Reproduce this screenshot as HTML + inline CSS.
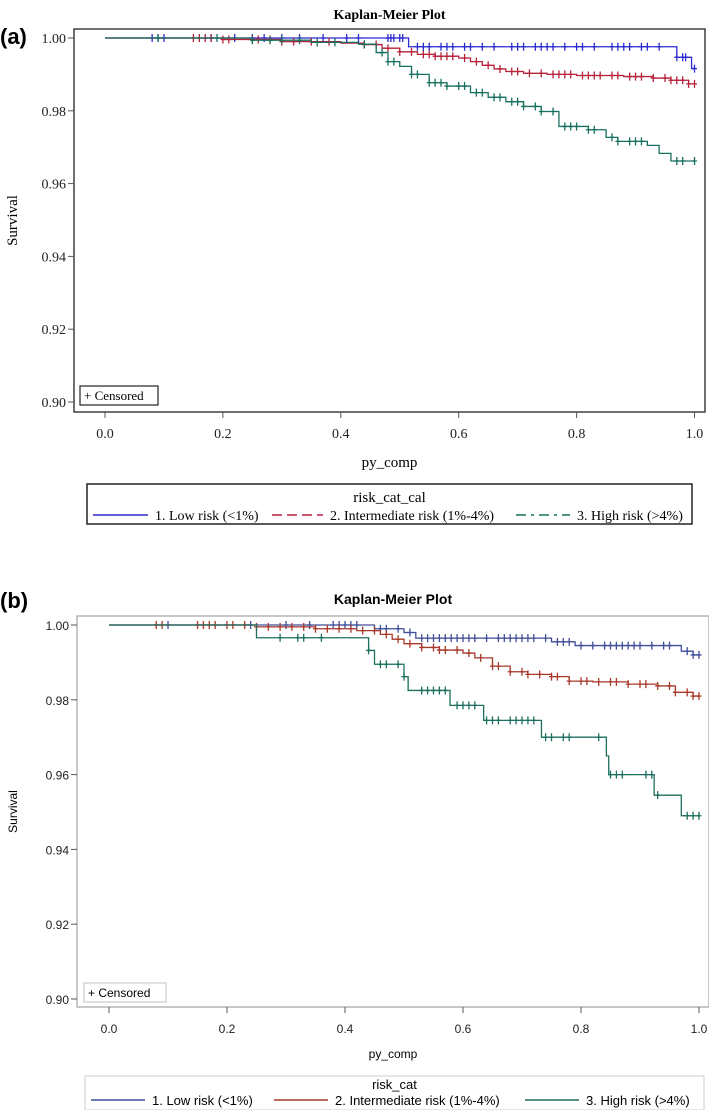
<!DOCTYPE html>
<html><head><meta charset="utf-8"><style>
html,body{margin:0;padding:0;background:#fff;overflow:hidden;}
svg{display:block;}
</style></head><body>
<svg id="fig" width="709" height="1110" viewBox="0 0 709 1110" xmlns="http://www.w3.org/2000/svg">
<g id="pa"></g>
<g id="pb"></g>
</svg>
<script>
// ---------- Panel (a) data: step points [time, survival] ----------
const aLowT = [0, 0.515, 0.970, 0.995];
const aLowS = [1.0, 0.9976, 0.9947, 0.9916];
const aMidT = [0, 0.20, 0.30, 0.40, 0.44, 0.47, 0.50, 0.53, 0.56, 0.60, 0.62, 0.64, 0.66, 0.68, 0.71, 0.75, 0.80, 0.88, 0.93, 0.96, 0.99];
const aMidS = [1.0, 0.9996, 0.9990, 0.9986, 0.9982, 0.9972, 0.9962, 0.9955, 0.9950, 0.9945, 0.9935, 0.9925, 0.9915, 0.9908, 0.9903, 0.9900, 0.9897, 0.9894, 0.9890, 0.9884, 0.9874];
const aHighT = [0, 0.25, 0.35, 0.43, 0.46, 0.48, 0.50, 0.52, 0.55, 0.58, 0.62, 0.65, 0.68, 0.71, 0.74, 0.77, 0.82, 0.85, 0.87, 0.92, 0.94, 0.96];
const aHighS = [1.0, 0.9994, 0.9988, 0.9983, 0.9960, 0.9935, 0.9922, 0.9900, 0.9877, 0.9868, 0.9850, 0.9837, 0.9825, 0.9812, 0.9798, 0.9757, 0.9748, 0.9727, 0.9716, 0.9705, 0.9683, 0.9662];
const aLowC = [0.08,0.09,0.10,0.18,0.22,0.25,0.27,0.30,0.33,0.37,0.41,0.43,0.48,0.485,0.49,0.50,0.505,0.53,0.54,0.55,0.57,0.58,0.59,0.61,0.62,0.64,0.66,0.69,0.70,0.71,0.73,0.74,0.75,0.76,0.78,0.80,0.81,0.83,0.86,0.87,0.88,0.89,0.91,0.92,0.94,0.97,0.98,0.985,1.0];
const aMidC = [0.15,0.16,0.17,0.18,0.20,0.21,0.25,0.26,0.28,0.30,0.32,0.35,0.38,0.44,0.46,0.48,0.50,0.52,0.54,0.55,0.56,0.57,0.58,0.59,0.61,0.63,0.65,0.67,0.69,0.70,0.72,0.74,0.76,0.77,0.78,0.79,0.81,0.82,0.83,0.84,0.86,0.87,0.89,0.90,0.91,0.93,0.95,0.96,0.97,0.98,0.99,1.0];
const aHighC = [0.09,0.19,0.25,0.28,0.30,0.33,0.36,0.39,0.44,0.47,0.48,0.49,0.52,0.53,0.55,0.56,0.57,0.58,0.60,0.61,0.63,0.64,0.66,0.67,0.69,0.70,0.71,0.73,0.74,0.76,0.78,0.79,0.80,0.82,0.83,0.86,0.87,0.89,0.90,0.91,0.97,0.98,1.0];
// ---------- Panel (b) data ----------
const bLowT = [0, 0.45, 0.50, 0.52, 0.75, 0.79, 0.97, 0.99];
const bLowS = [1.0, 0.9990, 0.9980, 0.9965, 0.9955, 0.9945, 0.9930, 0.9920];
const bMidT = [0, 0.25, 0.35, 0.42, 0.46, 0.48, 0.50, 0.53, 0.56, 0.60, 0.62, 0.65, 0.68, 0.71, 0.75, 0.78, 0.82, 0.88, 0.93, 0.96, 0.99];
const bMidS = [1.0, 0.9995, 0.9990, 0.9985, 0.9975, 0.9962, 0.9950, 0.9940, 0.9933, 0.9925, 0.9912, 0.9890, 0.9875, 0.9868, 0.9862, 0.9850, 0.9848, 0.9842, 0.9837, 0.9820, 0.9810];
const bHighT = [0, 0.25, 0.44, 0.45, 0.50, 0.507, 0.578, 0.635, 0.733, 0.843, 0.847, 0.924, 0.97];
const bHighS = [1.0, 0.9966, 0.9932, 0.9895, 0.9862, 0.9825, 0.9785, 0.9745, 0.9700, 0.9650, 0.9600, 0.9545, 0.9490];
const bLowC = [0.10,0.24,0.30,0.34,0.38,0.39,0.40,0.41,0.42,0.46,0.47,0.49,0.51,0.53,0.54,0.55,0.56,0.57,0.58,0.59,0.60,0.61,0.62,0.64,0.66,0.67,0.68,0.69,0.70,0.71,0.72,0.74,0.76,0.77,0.78,0.80,0.82,0.84,0.85,0.86,0.87,0.88,0.89,0.90,0.92,0.94,0.95,0.98,0.99,1.0];
const bMidC = [0.08,0.09,0.15,0.16,0.17,0.18,0.20,0.21,0.23,0.25,0.27,0.29,0.31,0.33,0.35,0.37,0.39,0.41,0.43,0.45,0.47,0.49,0.51,0.53,0.55,0.56,0.57,0.59,0.61,0.63,0.65,0.66,0.68,0.70,0.71,0.73,0.75,0.76,0.78,0.80,0.81,0.83,0.85,0.86,0.88,0.90,0.91,0.93,0.95,0.96,0.98,0.99,1.0];
const bHighC = [0.29,0.32,0.33,0.36,0.44,0.46,0.47,0.49,0.50,0.53,0.54,0.55,0.56,0.57,0.59,0.60,0.61,0.62,0.64,0.65,0.66,0.68,0.69,0.70,0.71,0.72,0.74,0.75,0.77,0.78,0.83,0.85,0.86,0.87,0.91,0.92,0.93,0.98,0.99,1.0];
const xTicks = ["0.0","0.2","0.4","0.6","0.8","1.0"];
const yTicks = ["0.90","0.92","0.94","0.96","0.98","1.00"];
const legendA = ["1. Low risk (<1%)","2. Intermediate risk (1%-4%)","3. High risk (>4%)"];

const NS = "http://www.w3.org/2000/svg";
function mk(parent, tag, attrs, text){
  const e = document.createElementNS(NS, tag);
  for (const k in attrs) e.setAttribute(k, attrs[k]);
  if (text !== undefined) e.textContent = text;
  parent.appendChild(e); return e;
}
function stepAt(T,S,t){ let s=S[0]; for(let i=0;i<T.length;i++){ if(T[i]<=t) s=S[i]; } return s; }

function panel(g, cfg){
  const sx = v => cfg.x0 + (cfg.x1-cfg.x0)*v;
  const sy = v => cfg.y0 + (cfg.y1-cfg.y0)*(v-0.90)/0.10;
  const F = cfg.font;
  const lbl = mk(g,'text',{x:0,y:cfg.labY,'font-family':'"Liberation Sans",sans-serif','font-weight':'bold','font-size':22});
  lbl.textContent = cfg.label;
  
  
  const ti = mk(g,'text',{x:(cfg.fx0+cfg.fx1)/2,y:cfg.titleY,'text-anchor':'middle','font-family':F,'font-weight':'bold','font-size':cfg.titleSize});
  ti.textContent = 'Kaplan-Meier Plot';
  
  
  const fr = mk(g,'rect',{x:cfg.fx0,y:cfg.fy0,width:cfg.fx1-cfg.fx0,height:cfg.fy1-cfg.fy0,fill:'none',stroke:cfg.frameColor,'stroke-width':cfg.frameW});
  
  
  xTicks.forEach((t,i)=>{
    const v=i*0.2, x=sx(v);
    mk(g,'line',{x1:x,x2:x,y1:cfg.fy1,y2:cfg.fy1+6,stroke:'#555'});
    const tx = mk(g,'text',{x:x,y:cfg.xLabY,'text-anchor':'middle','font-family':F,'font-size':cfg.tickSize,fill:'#222'});
    tx.textContent = t;
    
    
  });
  yTicks.forEach((t,i)=>{
    const v=0.90+i*0.02, y=sy(v);
    mk(g,'line',{x1:cfg.fx0-6,x2:cfg.fx0,y1:y,y2:y,stroke:'#555'});
    const ty = mk(g,'text',{x:cfg.fx0-8,y:y+5,'text-anchor':'end','font-family':F,'font-size':cfg.tickSize,fill:'#222'});
    ty.textContent = t;
    
    
  });
  const xt = mk(g,'text',{x:(cfg.fx0+cfg.fx1)/2,y:cfg.xTitleY,'text-anchor':'middle','font-family':F,'font-size':cfg.axTitleSize});
  xt.textContent='py_comp';
  
  
  const ymid=(cfg.fy0+cfg.fy1)/2;
  const yt = mk(g,'text',{x:cfg.yTitleX,y:ymid,'text-anchor':'middle','font-family':F,'font-size':cfg.axTitleSize,transform:`rotate(-90 ${cfg.yTitleX} ${ymid})`});
  yt.textContent='Survival';
  
  
  const cb = mk(g,'rect',{x:cfg.cbX,y:cfg.cbY,width:cfg.cbW,height:cfg.cbH,fill:'#fff',stroke:cfg.cbStroke,'stroke-width':1.2});
  
  
  const ct = mk(g,'text',{x:cfg.cbX+4,y:cfg.cbY+cfg.cbH-5,'font-family':F,'font-size':cfg.cbSize});
  ct.textContent='+ Censored';
  
  
  cfg.series.forEach((se,k)=>{
    let d=`M${sx(0)},${sy(se.S[0])}`;
    for(let i=1;i<se.T.length;i++){ d+=` H${sx(se.T[i])} V${sy(se.S[i])}`; }
    d+=` H${sx(1.0)}`;
    const p = mk(g,'path',{d:d,fill:'none',stroke:se.color,'stroke-width':1.3});
    
    
    se.C.forEach(t=>{
      const x=sx(t), y=sy(stepAt(se.T,se.S,t));
      const c = mk(g,'path',{d:`M${x},${y-4} V${y+4} M${x-2.5},${y} H${x+2.5}`,stroke:se.color,'stroke-width':1.3,fill:'none'});
      
      
    });
  });
  const lb = mk(g,'rect',{x:cfg.lx0,y:cfg.ly0,width:cfg.lx1-cfg.lx0,height:cfg.ly1-cfg.ly0,fill:'none',stroke:cfg.legStroke,'stroke-width':cfg.legW});
  
  
  const lt = mk(g,'text',{x:(cfg.lx0+cfg.lx1)/2,y:cfg.legTitleY,'text-anchor':'middle','font-family':F,'font-size':cfg.legTitleSize});
  lt.textContent=cfg.legTitle;
  
  
  cfg.series.forEach((se,k)=>{
    const e = cfg.legX[k];
    const ln = mk(g,'line',{x1:e[0],x2:e[1],y1:cfg.legEntryY-5,y2:cfg.legEntryY-5,stroke:se.color,'stroke-width':1.5,'stroke-dasharray':cfg.dash[k]});
    
    
    const tx = mk(g,'text',{x:e[1]+7,y:cfg.legEntryY,'font-family':F,'font-size':cfg.legSize});
    tx.textContent=legendA[k];
    
    
  });
}

panel(document.getElementById('pa'),{
  label:'(a)',labY:44,font:'"Liberation Serif",serif',titleY:19,titleSize:14,
  fx0:74,fx1:705,fy0:29,fy1:412,frameColor:'#222',frameW:1.3,
  x0:105,x1:694.5,y0:402,y1:38,
  xLabY:438,tickSize:14,xTitleY:467,axTitleSize:15,yTitleX:17,
  cbX:80,cbY:386,cbW:78,cbH:19,cbSize:13,cbStroke:'#222',
  lx0:87,lx1:692,ly0:484,ly1:524,legStroke:'#222',legW:1.5,legTitle:'risk_cat_cal',legTitleY:502,legTitleSize:15,
  legEntryY:520,legSize:14,legX:[[93,148],[272,323],[516,570]],dash:['none','10,5','10,5,3,5'],
  series:[
    {T:aLowT,S:aLowS,C:aLowC,color:'#2b2bd0'},
    {T:aMidT,S:aMidS,C:aMidC,color:'#b5223a'},
    {T:aHighT,S:aHighS,C:aHighC,color:'#17705f'}
  ]
});
panel(document.getElementById('pb'),{
  label:'(b)',labY:608,font:'"Liberation Sans",sans-serif',titleY:604,titleSize:14,
  fx0:77,fx1:709,fy0:616,fy1:1007,frameColor:'#aaa',frameW:1.3,
  x0:109,x1:699,y0:999,y1:625,
  xLabY:1033,tickSize:12,xTitleY:1058,axTitleSize:12,yTitleX:17,
  cbX:84,cbY:983,cbW:82,cbH:19,cbSize:12,cbStroke:'#ccc',
  lx0:85,lx1:704,ly0:1076,ly1:1110,legStroke:'#ccc',legW:1,legTitle:'risk_cat',legTitleY:1089,legTitleSize:13,
  legEntryY:1105,legSize:13,legX:[[91,145],[274,328],[525,579]],dash:['none','none','none'],
  series:[
    {T:bLowT,S:bLowS,C:bLowC,color:'#3f4f9a'},
    {T:bMidT,S:bMidS,C:bMidC,color:'#a83a2c'},
    {T:bHighT,S:bHighS,C:bHighC,color:'#1d6f5e'}
  ]
});
</script>
</body></html>
